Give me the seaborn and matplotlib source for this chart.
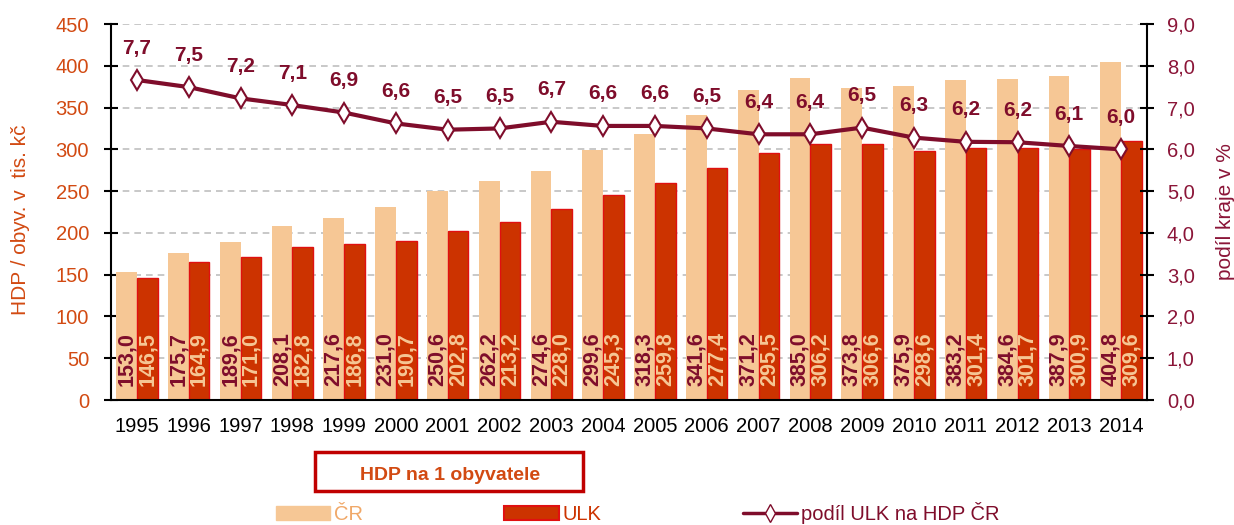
import numpy as np
import pandas as pd
import matplotlib
matplotlib.use('Agg')
import matplotlib.pyplot as plt
from matplotlib.patches import Rectangle
from matplotlib.lines import Line2D
from matplotlib.patches import Patch
import seaborn as sns

sns.set_style('white')
plt.rcParams['font.family'] = ['Liberation Sans', 'DejaVu Sans']

# data
years = [str(y) for y in range(1995, 2015)]
hdp_cr = [153.0, 175.7, 189.6, 208.1, 217.6, 231.0, 250.6, 262.2, 274.6, 299.6,
          318.3, 341.6, 371.2, 385.0, 373.8, 375.9, 383.2, 384.6, 387.9, 404.8]
hdp_ulk = [146.5, 164.9, 171.0, 182.8, 186.8, 190.7, 202.8, 213.2, 228.0, 245.3,
           259.8, 277.4, 295.5, 306.2, 306.6, 298.6, 301.4, 301.7, 300.9, 309.6]
share_ulk = [7.66, 7.49, 7.22, 7.06, 6.88, 6.62, 6.47, 6.50, 6.66, 6.56,
             6.56, 6.50, 6.36, 6.36, 6.52, 6.28, 6.18, 6.17, 6.08, 6.00]

C_CR = '#F6C795'
C_ULK = '#CC3300'
C_ULK_EDGE = '#E01010'
C_LINE = '#7F0D2B'
C_LEFT = '#D24A12'
C_RIGHT = '#8B1538'

def fmt(v):
	return '{0:.1f}'.format(v).replace('.', ',')

df = pd.DataFrame({'Rok': years * 2,
                   'Oblast': ['ČR'] * len(years) + ['ULK'] * len(years),
                   'HDP': hdp_cr + hdp_ulk})

fig, ax = plt.subplots(figsize=(12.34, 5.25), dpi=100)
fig.subplots_adjust(left=111/1234, right=1147/1234, bottom=125/525, top=501/525)

sns.barplot(data=df, x='Rok', y='HDP', hue='Oblast', palette={'ČR': C_CR, 'ULK': C_ULK},
            width=0.8, saturation=1, legend=False, ax=ax, zorder=2)
for bar in ax.containers[1]:
	bar.set_edgecolor(C_ULK_EDGE)
	bar.set_linewidth(1)
for bar in ax.containers[0]:
	bar.set_linewidth(0)

# value labels inside bars
for container, col in zip(ax.containers, [C_LINE, C_CR]):
	for bar, v in zip(container, container.datavalues):
		ax.text(bar.get_x() + bar.get_width() / 2, 17, fmt(v), rotation=90,
		        ha='center', va='bottom', fontsize=15.5, fontweight='bold', color=col, zorder=5)

ax.set_xlim(-0.5, len(years) - 0.5)
ax.set_ylim(0, 450)
ax.set_yticks(np.arange(0, 451, 50))
ax.yaxis.grid(True, linestyle=(0, (4, 3)), color='#BFBFBF', linewidth=1.2)
ax.set_axisbelow(True)
ax.set_xlabel('')
ax.set_ylabel('HDP / obyv. v  tis. kč', color=C_LEFT, fontsize=15)
ax.yaxis.label.set_verticalalignment('center')
ax.yaxis.set_label_coords(-0.087, 0.48)
ax.set_xticks(np.arange(-0.5, len(years)), minor=True)
ax.tick_params(axis='x', which='major', length=0, pad=12.5, labelsize=14.5, labelcolor='black')
ax.tick_params(axis='x', which='minor', direction='inout', length=6, width=1.5, color='black')
ax.tick_params(axis='y', direction='inout', length=9.5, width=1.5, color='black',
               pad=11, labelsize=14.5, labelcolor=C_LEFT, left=True)
for s in ['left', 'bottom']:
	ax.spines[s].set_color('black')
	ax.spines[s].set_linewidth(1.5)
ax.spines['top'].set_visible(False)
ax.spines['right'].set_visible(False)

ax2 = ax.twinx()
xpos = np.arange(len(years))
sns.lineplot(x=xpos, y=share_ulk, ax=ax2, color=C_LINE, linewidth=3, marker='d',
             markersize=10.5, markerfacecolor='white', markeredgecolor=C_LINE,
             markeredgewidth=1.5, zorder=6)
for x, v in zip(xpos, share_ulk):
	ax2.annotate(fmt(v), (x, v), textcoords='offset points', xytext=(0, 23),
	             ha='center', va='center', fontsize=15, fontweight='bold', color=C_LINE)
ax2.set_ylim(0, 9)
ax2.set_yticks(np.arange(0, 9.01, 1))
ax2.set_yticklabels([fmt(v) for v in np.arange(0, 9.01, 1)])
ax2.set_ylabel('podíl kraje v %', color=C_RIGHT, fontsize=15)
ax2.yaxis.label.set_verticalalignment('center')
ax2.yaxis.set_label_coords(1.076, 0.5)
ax2.tick_params(axis='y', direction='inout', length=9.5, width=1.5, color='black',
                pad=9.5, labelsize=14.5, labelcolor=C_RIGHT, right=True)
ax2.grid(False)
ax2.spines['right'].set_color('black')
ax2.spines['right'].set_linewidth(1.5)
for s in ['top', 'left', 'bottom']:
	ax2.spines[s].set_visible(False)
ax2.set_xlim(-0.5, len(years) - 0.5)

# title box under the chart
fig.patches.append(Rectangle((315/1234, 1 - 491/525), 268/1234, 39/525, transform=fig.transFigure,
                             facecolor='white', edgecolor='#C00000', linewidth=2.5))
fig.text(450/1234, 1 - 476/525, 'HDP na 1 obyvatele', ha='center', va='center',
         fontsize=14, fontweight='bold', color=C_LEFT)

handles = [Patch(facecolor=C_CR, edgecolor=C_CR),
           Patch(facecolor=C_ULK, edgecolor=C_ULK_EDGE, linewidth=1.5),
           Line2D([0], [0], color=C_LINE, linewidth=2.5, marker='d', markersize=9,
                  markerfacecolor='white', markeredgecolor=C_LINE)]
leg = fig.legend(handles, ['ČR', 'ULK', 'podíl ULK na HDP ČR'], ncol=3, frameon=False,
                 loc='center left', bbox_to_anchor=(276/1234, 1 - 513/525),
                 fontsize=14.5, handlelength=2.7, handletextpad=0.2, columnspacing=7.0,
                 borderpad=0, borderaxespad=0)
for t, c in zip(leg.get_texts(), ['#F0A868', C_ULK, C_LINE]):
	t.set_color(c)

plt.savefig('out.png', dpi=100)
